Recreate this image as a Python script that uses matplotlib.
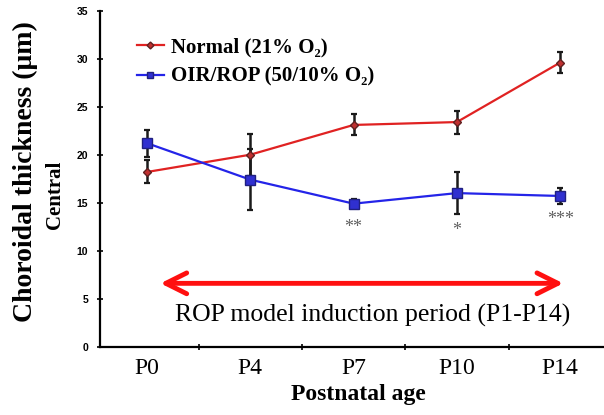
import numpy as np
import matplotlib.pyplot as plt
from matplotlib.ticker import FixedLocator
from matplotlib.lines import Line2D

# Data
ages = ['P0', 'P4', 'P7', 'P10', 'P14']
normal_mean = [18.2, 20.0, 23.1, 23.4, 29.6]
normal_err = [1.2, 2.2, 1.1, 1.2, 1.1]
oir_mean = [21.2, 17.4, 14.9, 16.0, 15.7]
oir_err = [1.4, 3.2, 0.5, 2.2, 0.8]
stars = ['', '', '**', '*', '***']
star_y = [0, 0, 12.4, 12.1, 13.2]

serif = ['Liberation Serif', 'DejaVu Serif']

fig = plt.figure(figsize=(6.04, 4.15), dpi=100)
ax = fig.add_axes([100 / 604, 1 - 346.7 / 415, 517 / 604, 336 / 415])

x = np.arange(len(ages))

normal_style = dict(color='#e02222', lw=1.6, marker='D', ms=4.5,
                    mfc='#c03030', mec='#602020')
oir_style = dict(color='#2424e8', lw=1.6, marker='s', ms=6.5,
                 mfc='#3030d0', mec='#202080')

ax.errorbar(x, normal_mean, yerr=normal_err, ecolor='#1a1a1a',
            elinewidth=1.8, capsize=2.5, capthick=1.6, zorder=3,
            **normal_style)
ax.errorbar(x, oir_mean, yerr=oir_err, ecolor='#1a1a1a',
            elinewidth=1.8, capsize=2.5, capthick=1.6, zorder=3,
            **oir_style)

for xi, s, yv in zip(x, stars, star_y):
    if s:
        ax.text(xi, yv, s, ha='center', va='center', fontsize=13,
                color='#606060', family=serif)

# induction period arrow
ax.annotate('', xy=(0.13, 6.6), xytext=(4.03, 6.6),
            arrowprops=dict(arrowstyle='<->,head_length=1.5,head_width=0.75',
                            color='#ff1010', lw=3.5, shrinkA=0, shrinkB=0))
ax.text(2.18, 3.3, 'ROP model induction period (P1-P14)', ha='center',
        va='center', fontsize=18.5, family=serif)

ax.set_xlim(-0.455, 4.55)
ax.set_ylim(0, 35)
ax.set_xticks(x)
ax.set_xticklabels(ages, fontsize=17, family=serif)
ax.xaxis.set_minor_locator(FixedLocator([0.5, 1.5, 2.5, 3.5]))
ax.tick_params(axis='x', which='major', length=0, pad=8)
ax.tick_params(axis='x', which='minor', length=4, width=1.2,
               direction='inout')
ax.set_yticks(np.arange(0, 36, 5))
ax.tick_params(axis='y', length=5, width=1.2, direction='inout', pad=6)
for lab in ax.get_yticklabels():
    lab.set_fontsize(7.5)
    lab.set_fontweight('bold')
    lab.set_family('Liberation Sans')

for side in ['top', 'right']:
    ax.spines[side].set_visible(False)
for side in ['left', 'bottom']:
    ax.spines[side].set_linewidth(1.6)

ax.set_xlabel('Postnatal age', fontsize=17, fontweight='bold',
              family=serif, labelpad=4)

fig.text(25 / 604, 1 - 172 / 415, 'Choroidal thickness (μm)', rotation=90,
         ha='center', va='center', fontsize=20, fontweight='bold',
         family=serif)
fig.text(55 / 604, 1 - 195 / 415, 'Central', rotation=90,
         ha='center', va='center', fontsize=15, fontweight='bold',
         family=serif)

leg_normal = dict(normal_style, ms=3.5)
leg_oir = dict(oir_style, ms=5)
handles = [Line2D([], [], **leg_normal), Line2D([], [], **leg_oir)]
labels = ['Normal (21% O₂)', 'OIR/ROP (50/10% O₂)']
ax.legend(handles, labels, loc='upper left', bbox_to_anchor=(0.055, 0.945),
          frameon=False, prop={'family': serif, 'weight': 'bold', 'size': 15},
          handlelength=1.3, handletextpad=0.35, labelspacing=0.45,
          borderaxespad=0)

fig.savefig('out.png', dpi=100, facecolor='white')
